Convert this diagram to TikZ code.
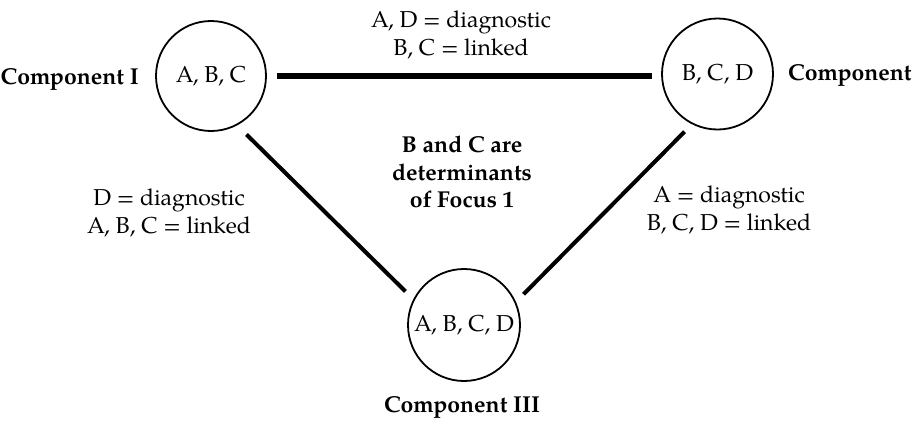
\documentclass[tikz,border=0pt]{standalone}
\usepackage{fontspec}
\setmainfont{TeX Gyre Pagella}
\begin{document}
\begin{tikzpicture}[x=1pt,y=-1pt,
  every node/.style={font=\fontsize{23}{27.5}\selectfont},
  comp/.style={draw,circle,line width=1.8pt,inner sep=0pt,minimum size=#1},
  lbl/.style={align=center,inner sep=0pt},
  blbl/.style={align=center,inner sep=0pt,font=\fontsize{23}{27.5}\selectfont\bfseries},
  thickline/.style={line width=6pt},
  diagline/.style={line width=4pt}]
\path[fill=white,use as bounding box] (0,0) rectangle (912,423);
% circles
\node[comp=110] (I) at (211,76) {A, B, C};
\node[comp=111] (II) at (717.5,74) {B, C, D};
\node[comp=112] (III) at (464,325) {A, B, C, D};
% component labels
\node[blbl,anchor=base west] (tI) at (0.5,84) {Component I};
\node[blbl,anchor=base west] (tII) at (788,80) {Component};
\node[blbl,anchor=base] (tIII) at (462,412) {Component III};
% connectors
\draw[thickline,shorten <=10pt,shorten >=9pt] (I.east) -- (I.east -| II.west);
\draw[diagline,shorten <=13pt,shorten >=11pt] (I.-62) -- (III.153);
\draw[diagline,shorten <=10.5pt,shorten >=10.7pt] (II.-117) -- (III.24);
% edge labels
\node[lbl] (top) at (461,35) {A, D = diagnostic\\B, C = linked};
\node[lbl] (left) at (169,213) {D = diagnostic\\A, B, C = linked};
\node[lbl] (right) at (729,210) {A = diagnostic\\B, C, D = linked};
\node[blbl] (mid) at (462,172) {B and C are\\determinants\\of Focus 1};
\end{tikzpicture}
\end{document}
